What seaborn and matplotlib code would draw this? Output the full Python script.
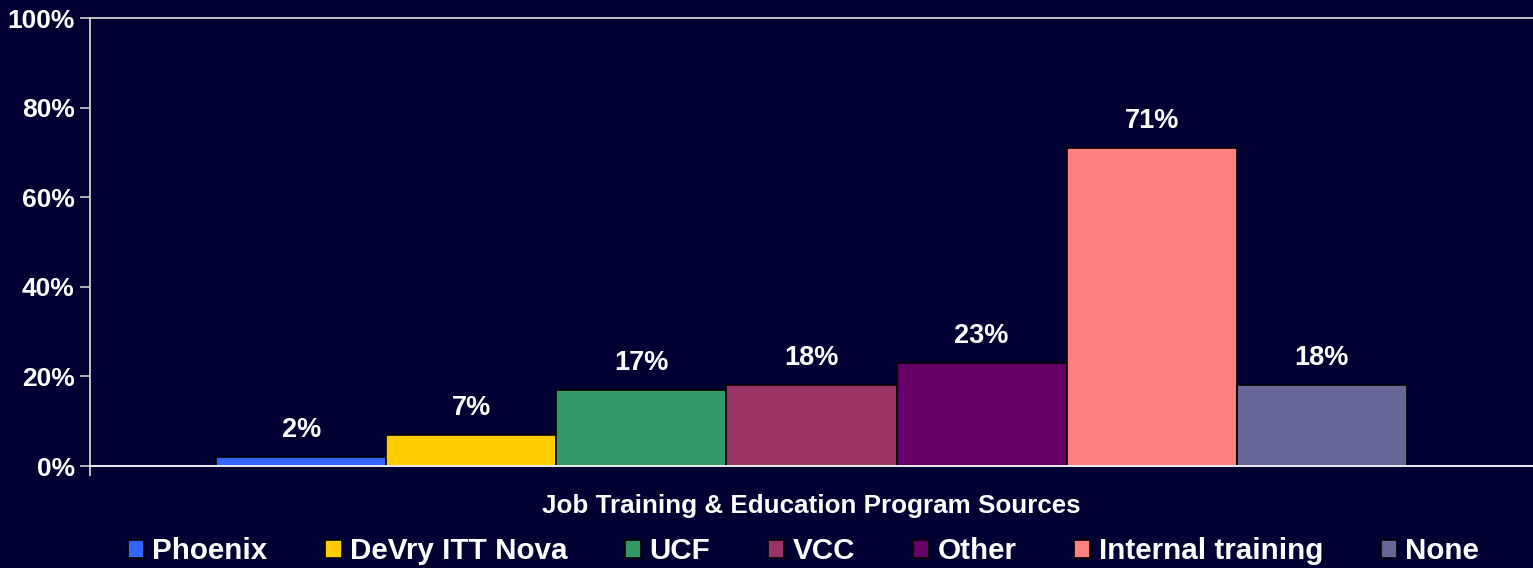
import pandas as pd
import seaborn as sns
import matplotlib.pyplot as plt
from matplotlib.ticker import FuncFormatter

# data
sources = ['Phoenix', 'DeVry ITT Nova', 'UCF', 'VCC', 'Other', 'Internal training', 'None']
percents = [2, 7, 17, 18, 23, 71, 18]
colors = ['#3366FF', '#FFCC00', '#339966', '#993366', '#660066', '#FF8080', '#666699']
x_title = 'Job Training & Education Program Sources'

bg = '#000033'

df = pd.DataFrame({'group': [''] * len(sources), 'source': sources, 'pct': percents})

sns.set_style('dark')
plt.rcParams['font.family'] = ['Liberation Sans', 'DejaVu Sans']
plt.rcParams['font.weight'] = 'bold'

fig = plt.figure(figsize=(15.33, 5.68), dpi=100, facecolor=bg)
ax = fig.add_axes([90 / 1533, 1 - 466 / 568, 1 - 90 / 1533, 448 / 568])
ax.set_facecolor(bg)

sns.barplot(data=df, x='group', y='pct', hue='source', hue_order=sources,
            palette=colors, saturation=1, width=0.825, dodge=True,
            edgecolor='black', linewidth=1.2, ax=ax)

for c in ax.containers:
    ax.bar_label(c, fmt='%g%%', padding=10, color='white', fontsize=19.5, fontweight='bold')

ax.set_ylim(0, 100)
ax.set_xlim(-0.5, 0.5)
ax.set_yticks([0, 20, 40, 60, 80, 100])
ax.yaxis.set_major_formatter(FuncFormatter(lambda v, p: f'{v:.0f}%'))
ax.tick_params(axis='y', colors='#d0d0d0', labelcolor='white', labelsize=19,
               length=7, width=1.2, direction='out', left=True, pad=4)
ax.tick_params(axis='x', bottom=False, labelbottom=False)
for lab in ax.get_yticklabels():
    lab.set_fontweight('bold')

ax.set_ylabel('')
ax.set_xlabel(x_title, color='white', fontsize=18.7, fontweight='bold', labelpad=20)

for side in ['left', 'top', 'bottom']:
    ax.spines[side].set_visible(True)
    ax.spines[side].set_color('#d0d0d0')
    ax.spines[side].set_linewidth(1.3)
ax.spines['bottom'].set_color('white')
ax.spines['right'].set_visible(False)
ax.spines['left'].set_bounds(-2, 100)

sns.move_legend(ax, 'center', bbox_to_anchor=(0.4945, -0.19), ncol=7,
                frameon=False, title=None, fontsize=21.3, handlelength=0.55,
                handleheight=0.55, handletextpad=0.28, columnspacing=1.95,
                borderaxespad=0, borderpad=0)
for t in ax.get_legend().get_texts():
    t.set_color('white')
    t.set_fontweight('bold')

fig.savefig('out.png', dpi=100, facecolor=bg)
